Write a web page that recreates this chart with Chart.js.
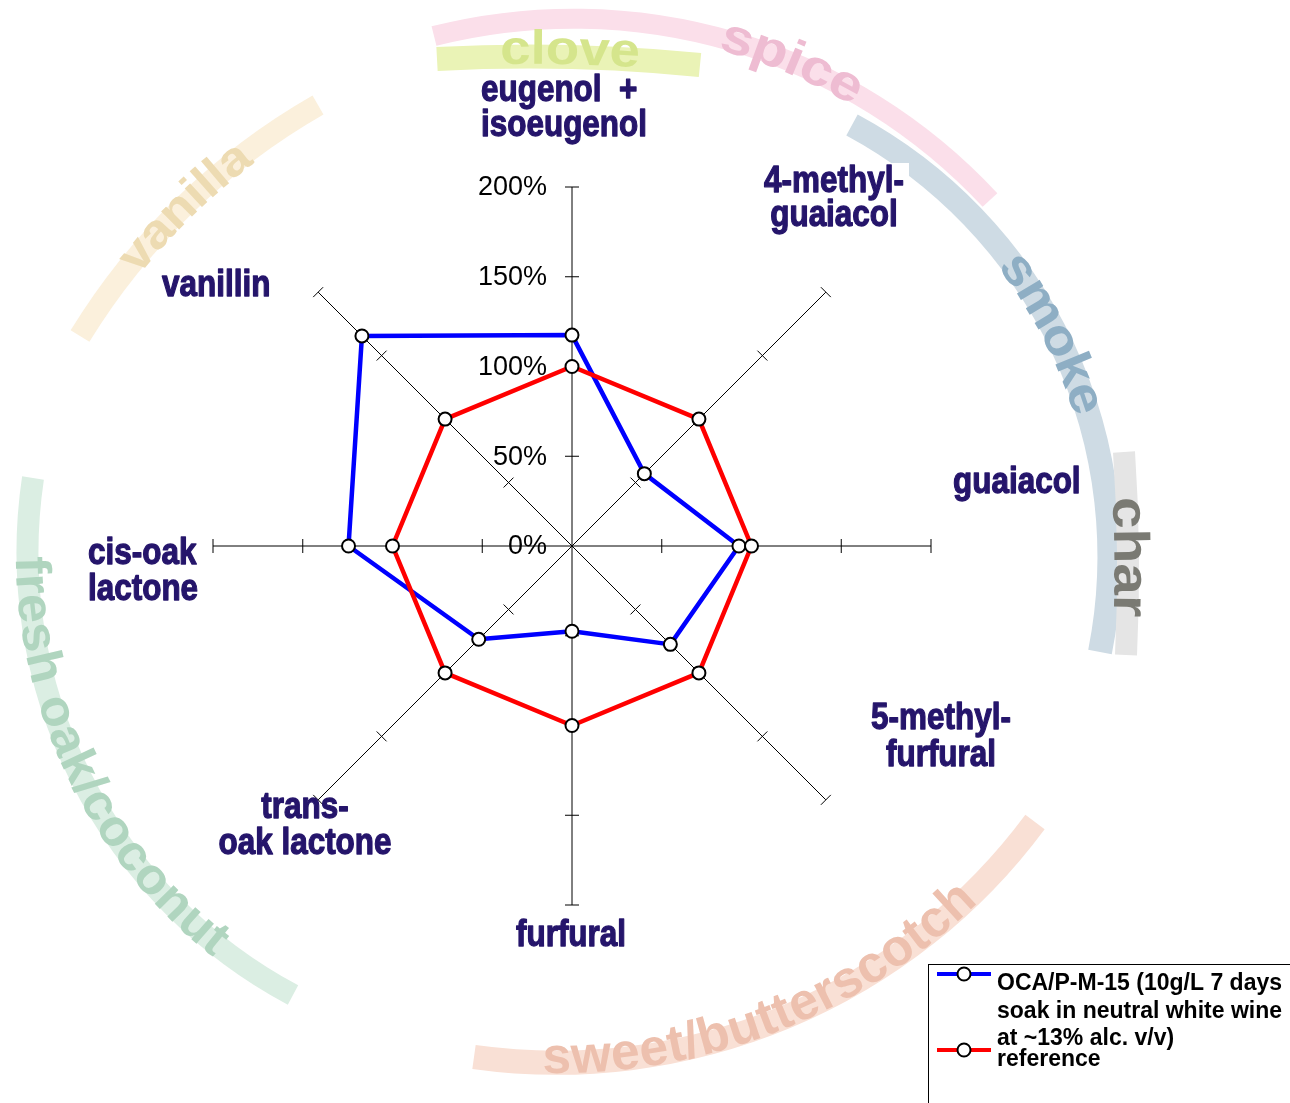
<!DOCTYPE html>
<html><head><meta charset="utf-8">
<script src="https://cdn.jsdelivr.net/npm/chart.js@4"></script>
<style>html,body{margin:0;padding:0;background:#fff;overflow:hidden}#wrap{width:1290px;height:1103px;position:relative}canvas{display:block}</style>
</head><body><div id="wrap"><canvas id="c" width="1290" height="1103"></canvas></div>
<script>
// ---------- data ----------
const categories = [['eugenol  +','isoeugenol'], ['4-methyl-','guaiacol'], ['guaiacol'], ['5-methyl-','furfural'], ['furfural'], ['trans-','oak lactone'], ['cis-oak','lactone'], ['vanillin']];
const ocaValues = [117.5, 57, 93, 77.5, 47.5, 73.5, 124.5, 165.5];
const referenceValues = [100, 100, 100, 100, 100, 100, 100, 100];
const seriesNames = ['OCA/P-M-15 (10g/L 7 days soak in neutral white wine at ~13% alc. v/v)', 'reference'];
const tickValues = [0, 50, 100, 150, 200];
const tickLabels = ['0%', '50%', '100%', '150%', '200%'];
const flavourNotes = ['vanilla', 'spice', 'clove', 'smoke', 'char', 'sweet/butterscotch', 'fresh oak/coconut'];

// ---------- layout / style ----------
const NAVY = '#25156b';
const labelLayout = [
  {x:481, y:101, align:'left', lh:35},
  {x:834, y:192, align:'center', lh:34, bg:[757,163,152,34]},
  {x:953, y:493, align:'left', lh:36},
  {x:941, y:729, align:'center', lh:37},
  {x:571, y:946, align:'center', lh:36},
  {x:305, y:818, align:'center', lh:36},
  {x:88,  y:564, align:'left', lh:36},
  {x:162, y:296, align:'left', lh:36}
];
const bandLayout = [
  {pts:[[318,105],[185,205],[80,336]], w:22, band:'#fbf0dc', ink:'#eddbb2', at:[183,205], len:165, size:48, dir:1, dr:0},
  {pts:[[434,36],[713,36],[990,200]], w:20, band:'#fbdfea', ink:'#eebcd2', at:[791,64], len:150, size:50, dir:1, dr:2},
  {pts:[[437,59],[570,57],[700,65]], w:24, band:'#eaf3b6', ink:'#d5e58c', at:[570,52], len:140, size:48, dir:1, dr:6},
  {pts:[[852,125],[1088,413],[1100,652]], w:24, band:'#cedbe4', ink:'#8eaec4', at:[1050,335], len:175, size:50, dir:1, dr:0},
  {pts:[[1124,452],[1128,552],[1126,655]], w:22, band:'#e5e5e5', ink:'#7a7a73', at:[1131,557], len:120, size:50, dir:1, dr:0},
  {pts:[[474,1057],[760,1027],[1035,822]], w:24, band:'#f9e0d5', ink:'#edc0ae', at:[770,1012], len:470, size:52, dir:-1, dr:-4},
  {pts:[[33,478],[110,828],[293,995]], w:22, band:'#dbeee3', ink:'#b0d5bf', at:[88,770], len:450, size:50, dir:-1, dr:-2}
];

function fitCircle(a,b,c){
  const d = 2*(a.x*(b.y-c.y)+b.x*(c.y-a.y)+c.x*(a.y-b.y));
  const A=a.x*a.x+a.y*a.y, B=b.x*b.x+b.y*b.y, C=c.x*c.x+c.y*c.y;
  const ux = (A*(b.y-c.y)+B*(c.y-a.y)+C*(a.y-b.y))/d;
  const uy = (A*(c.x-b.x)+B*(a.x-c.x)+C*(b.x-a.x))/d;
  return {x:ux, y:uy, r:Math.hypot(a.x-ux, a.y-uy)};
}
function angNorm(t){ const P=2*Math.PI; t%=P; if(t<0)t+=P; return t; }

const bgPlugin = {
  id:'bgBands',
  beforeDraw(chart){
    const ctx = chart.ctx;
    ctx.save();
    ctx.fillStyle = '#fff'; ctx.fillRect(0,0,chart.width,chart.height);
    const circles = bandLayout.map(b=>{
      const [p0,p1,p2] = b.pts.map(p=>({x:p[0],y:p[1]}));
      return {c:fitCircle(p0,p1,p2), p0, p1, p2};
    });
    bandLayout.forEach((b,i)=>{
      const {c,p0,p1,p2} = circles[i];
      const a0 = Math.atan2(p0.y-c.y,p0.x-c.x), a1 = Math.atan2(p1.y-c.y,p1.x-c.x), a2 = Math.atan2(p2.y-c.y,p2.x-c.x);
      const cw = angNorm(a1-a0) < angNorm(a2-a0);
      ctx.beginPath(); ctx.arc(c.x,c.y,c.r,a0,a2,!cw);
      ctx.lineWidth = b.w; ctx.strokeStyle = b.band; ctx.lineCap = 'butt'; ctx.stroke();
    });
    bandLayout.forEach((b,i)=>{
      const {c} = circles[i];
      const text = flavourNotes[i];
      const ta = Math.atan2(b.at[1]-c.y, b.at[0]-c.x);
      const rt = c.r + b.dr;
      ctx.font = 'bold ' + b.size + 'px "Liberation Sans", Arial, sans-serif';
      const chars = [...text];
      const widths = chars.map(ch=>ctx.measureText(ch).width);
      const tw = widths.reduce((s,w)=>s+w,0);
      const hs = b.len / tw;
      let s = -b.len/2;
      chars.forEach((ch,k)=>{
        const w = widths[k]*hs;
        const mid = s + w/2;
        const th = ta + b.dir*mid/rt;
        ctx.save();
        ctx.translate(c.x+rt*Math.cos(th), c.y+rt*Math.sin(th));
        ctx.rotate(th + b.dir*Math.PI/2);
        ctx.scale(hs, 1);
        ctx.textAlign='center'; ctx.textBaseline='middle'; ctx.fillStyle=b.ink;
        ctx.fillText(ch,0,0);
        ctx.restore();
        s += w;
      });
    });
    ctx.restore();
  }
};

const axisPlugin = {
  id:'axisTicks',
  beforeDatasetsDraw(chart){
    const sc = chart.scales.r, ctx = chart.ctx;
    ctx.save();
    ctx.strokeStyle = '#000'; ctx.lineWidth = 1;
    const n = chart.data.labels.length;
    for(let i=0;i<n;i++){
      const ang = sc.getIndexAngle(i) - Math.PI/2;
      const px = -Math.sin(ang), py = Math.cos(ang);
      tickValues.forEach(v=>{
        if(v===0) return;
        const p = sc.getPointPositionForValue(i, v);
        ctx.beginPath();
        ctx.moveTo(p.x - 7*px, p.y - 7*py);
        ctx.lineTo(p.x + 7*px, p.y + 7*py);
        ctx.stroke();
      });
    }
    ctx.fillStyle = '#000';
    ctx.font = '27px "Liberation Sans", Arial, sans-serif';
    ctx.textAlign = 'right'; ctx.textBaseline = 'middle';
    tickValues.forEach((v,k)=>{
      const y = sc.yCenter - sc.getDistanceFromCenterForValue(v);
      ctx.fillText(tickLabels[k], sc.xCenter - 25, y + 1);
    });
    ctx.restore();
  }
};

const labelPlugin = {
  id:'compoundLabels',
  afterDraw(chart){
    const ctx = chart.ctx;
    ctx.save();
    chart.data.labels.forEach((lab,i)=>{
      const L = labelLayout[i];
      const lines = Array.isArray(lab) ? lab : [lab];
      if(L.bg){ ctx.fillStyle='#fff'; ctx.fillRect(L.bg[0],L.bg[1],L.bg[2],L.bg[3]); }
      lines.forEach((ln,k)=>{
        ctx.save();
        ctx.translate(L.x, L.y + k*L.lh);
        ctx.scale(0.85, 1);
        ctx.font = 'bold 37px "Liberation Sans", Arial, sans-serif';
        ctx.fillStyle = NAVY; ctx.strokeStyle = NAVY; ctx.lineWidth = 1.3; ctx.lineJoin = 'round';
        ctx.textAlign = L.align; ctx.textBaseline = 'alphabetic';
        ctx.fillText(ln, 0, 0);
        ctx.strokeText(ln, 0, 0);
        ctx.restore();
      });
    });
    ctx.restore();
  }
};

const legendPlugin = {
  id:'boxLegend',
  afterDraw(chart){
    const ctx = chart.ctx;
    ctx.save();
    ctx.fillStyle = '#fff';
    ctx.fillRect(928.5, 964.5, 400, 200);
    ctx.strokeStyle = '#000'; ctx.lineWidth = 1;
    ctx.strokeRect(928.5, 964.5, 400, 200);
    ctx.font = 'bold 23px "Liberation Sans", Arial, sans-serif';
    ctx.textBaseline = 'alphabetic'; ctx.textAlign = 'left';
    chart.data.datasets.forEach((ds,i)=>{
      const ly = 974 + i*76;
      ctx.strokeStyle = ds.borderColor; ctx.lineWidth = 4;
      ctx.beginPath(); ctx.moveTo(937, ly); ctx.lineTo(991, ly); ctx.stroke();
      ctx.beginPath(); ctx.arc(964, ly, 6.5, 0, 2*Math.PI);
      ctx.fillStyle = '#fff'; ctx.fill();
      ctx.strokeStyle = '#000'; ctx.lineWidth = 2; ctx.stroke();
      const words = ds.label.split(' ');
      const lines = []; let cur = '';
      words.forEach(w=>{
        const t = cur ? cur + ' ' + w : w;
        if(ctx.measureText(t).width > 300 && cur){ lines.push(cur); cur = w; } else cur = t;
      });
      if(cur) lines.push(cur);
      ctx.fillStyle = '#000';
      lines.forEach((t,k)=> ctx.fillText(t, 997, ly + 16 + k*27.5));
    });
    ctx.restore();
  }
};

const ctx = document.getElementById('c').getContext('2d');
new Chart(ctx, {
  type:'radar',
  data:{
    labels: categories,
    datasets:[
      {label: seriesNames[0], data: ocaValues, borderColor:'#0000ff', backgroundColor:'rgba(0,0,0,0)', borderWidth:4.5, borderJoinStyle:'round',
       pointRadius:6.5, pointBorderWidth:2, pointBorderColor:'#000', pointBackgroundColor:'#fff', fill:false, order:1},
      {label: seriesNames[1], data: referenceValues, borderColor:'#ff0000', backgroundColor:'rgba(0,0,0,0)', borderWidth:4.5, borderJoinStyle:'round',
       pointRadius:6.5, pointBorderWidth:2, pointBorderColor:'#000', pointBackgroundColor:'#fff', fill:false, order:0}
    ]
  },
  options:{
    responsive:false, animation:false, devicePixelRatio:1,
    layout:{padding:{left:213, right:359, top:187, bottom:198}},
    plugins:{legend:{display:false}, tooltip:{enabled:false}},
    elements:{line:{tension:0}},
    scales:{r:{min:0, max:200, beginAtZero:true,
      ticks:{stepSize:50, display:false},
      grid:{display:false},
      angleLines:{display:true, color:'#000', lineWidth:1},
      pointLabels:{display:false}}}
  },
  plugins:[bgPlugin, axisPlugin, labelPlugin, legendPlugin]
});
</script></body></html>
